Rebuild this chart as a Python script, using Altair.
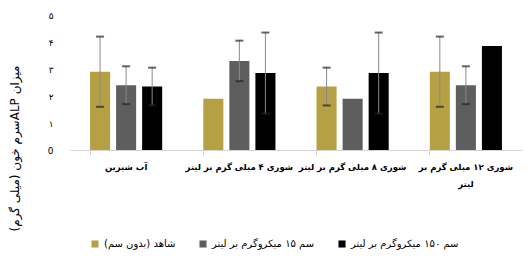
import altair as alt
import pandas as pd

RLE, PDF = "\u202b", "\u202c"

categories = ["آب شیرین", "شوری ۴ میلی گرم بر لیتر", "شوری ۸ میلی گرم بر لیتر", "شوری ۱۲ میلی گرم بر لیتر"]
series = ["شاهد (بدون سم)", "سم ۱۵ میکروگرم بر لیتر", "سم ۱۵۰ میکروگرم بر لیتر"]
y_title = "میزان ALPسرم خون (میلی گرم)"
colors = ["#b5a044", "#5e5e5e", "#000000"]
y_ticks = [0, 1, 2, 3, 4, 5]

control = [2.9, 1.9, 2.35, 2.9]
s15 = [2.4, 3.3, 1.9, 2.4]
s150 = [2.35, 2.85, 2.85, 3.85]

control_err = [1.3, 0.0, 0.7, 1.3]
s15_err = [0.7, 0.75, 0.0, 0.7]
s150_err = [0.7, 1.5, 1.5, 0.0]

series_rtl = [RLE + s + PDF for s in series]

rows = []
for s, vals, errs in zip(series_rtl, [control, s15, s150], [control_err, s15_err, s150_err]):
    for c, v, e in zip(categories, vals, errs):
        rows.append({"cat": c, "ser": s, "val": v, "err": e, "lo": v - e, "hi": v + e})
df = pd.DataFrame(rows)
err_df = df[df["err"] > 0]

FONT = "DejaVu Sans"

label_expr = ("datum.label == '" + categories[3] + "' ? ['شوری ۱۲ میلی گرم بر', 'لیتر'] : datum.label")

x_axis = alt.Axis(title=None, labelAngle=0, labelFont=FONT, labelFontSize=8.5,
                  labelFontWeight="bold", labelColor="#000", labelPadding=7,
                  labelExpr=label_expr, labelLimit=200, bandPosition=0,
                  labelOverlap=False, labelBound=False,
                  domainColor="#d4d4d4", tickColor="#d4d4d4", tickSize=5,
                  labelLineHeight=17)
x_scale = alt.Scale(paddingInner=0.363, paddingOuter=0.177)
y_axis = alt.Axis(title=RLE + y_title + PDF, titleFont=FONT, titleFontSize=12,
                  titleFontWeight="normal", titleColor="#000", titleX=-49, titleY=133,
                  values=y_ticks, tickCount=6, grid=False, domain=False, ticks=False,
                  labelOverlap=False,
                  labelFont=FONT, labelFontSize=9, labelColor="#000", labelPadding=17,
                  labelExpr="datum.value == 0 ? '0' : ['۰','۱','۲','۳','۴','۵'][datum.value]")
y_scale = alt.Scale(domain=[0, 5])

X = alt.X("cat:N", sort=categories, scale=x_scale, axis=x_axis)
XO = alt.XOffset("ser:N", sort=series_rtl, scale=alt.Scale(paddingInner=0.23, paddingOuter=0))

bars = alt.Chart(df).mark_bar().encode(
    x=X,
    xOffset=XO,
    y=alt.Y("val:Q", scale=y_scale, axis=y_axis),
    color=alt.Color("ser:N", sort=series_rtl, scale=alt.Scale(domain=series_rtl, range=colors),
                    legend=alt.Legend(title=None, orient="none", direction="horizontal",
                                      legendX=20, legendY=224, labelFont=FONT, labelFontSize=10,
                                      labelColor="#000", symbolType="square", symbolSize=50,
                                      columnPadding=22, labelLimit=200, symbolStrokeWidth=0)),
)

rules = alt.Chart(err_df).mark_rule(color="#8a8a8a", strokeWidth=1).encode(
    x=X, xOffset=XO,
    y=alt.Y("lo:Q", scale=y_scale, axis=y_axis), y2="hi:Q")
cap_hi = alt.Chart(err_df).mark_tick(color="#222", thickness=2, size=8).encode(
    x=X, xOffset=XO, y=alt.Y("hi:Q", scale=y_scale, axis=y_axis))
cap_lo = alt.Chart(err_df).mark_tick(color="#222", thickness=2, size=8).encode(
    x=X, xOffset=XO, y=alt.Y("lo:Q", scale=y_scale, axis=y_axis))

chart = alt.layer(bars, rules, cap_hi, cap_lo).properties(
    width=452, height=135,
    autosize=alt.AutoSizeParams(type="none"),
    padding={"left": 62, "top": 7, "right": 0, "bottom": 110},
    background="white",
).configure_view(stroke=None)

chart.save("out.html", embed_options={"renderer": "svg", "actions": False})
